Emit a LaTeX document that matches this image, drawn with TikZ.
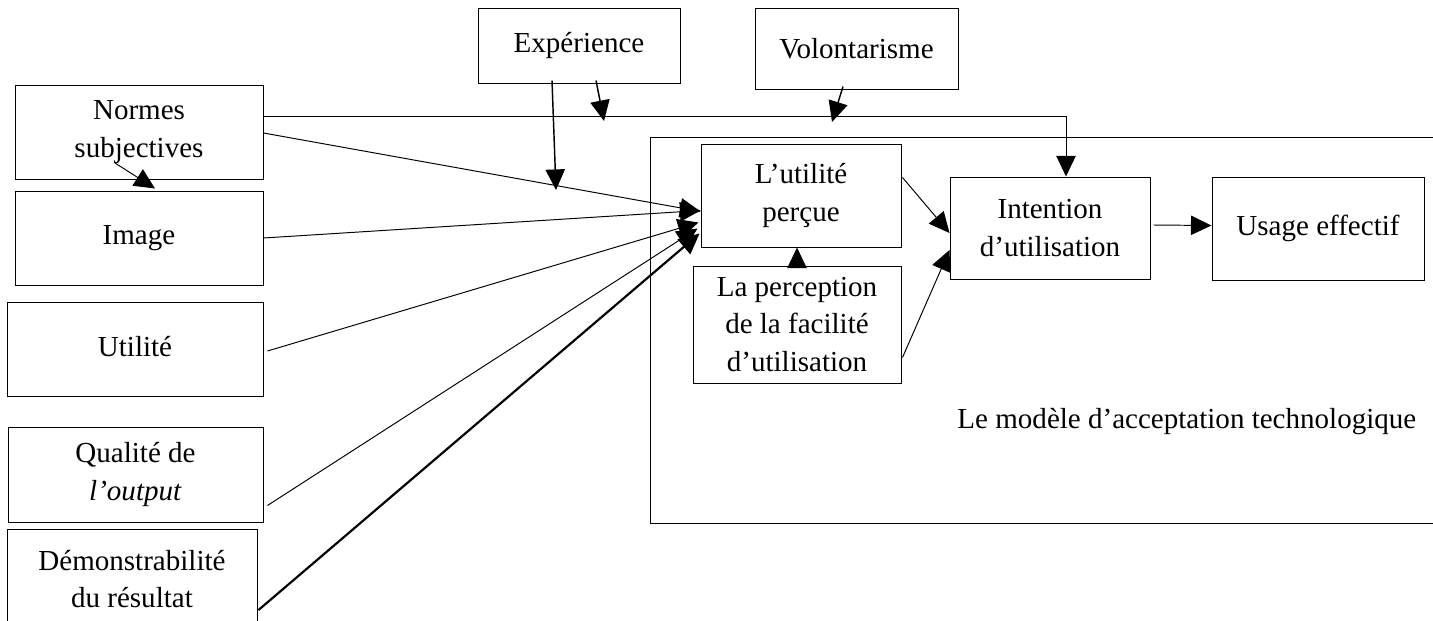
\documentclass[tikz,border=0pt]{standalone}
\usepackage{fontspec}
\setmainfont{Liberation Serif}
\usepackage{tikz}
\usetikzlibrary{calc,arrows.meta}
\tikzset{>={Triangle[length=8.5pt,width=8pt]}}

\begin{document}
\begin{tikzpicture}[x=0.014524cm,y=-0.014524cm,
    boite/.style={draw,align=center,inner sep=0pt,font=\fontsize{12}{15.5}\selectfont},
    taille/.style 2 args={minimum width=#1*0.014524cm,minimum height=#2*0.014524cm}]
  \useasboundingbox (0,0) rectangle (1433,621);

    % les variables externes
    \node[boite,taille={202}{75}] (exp) at (579,45.5) {Expérience};
    \node[boite,taille={203}{81}] (vol) at (856.5,48.5) {Volontarisme};
    \node[boite,taille={248}{94}] (norm) at (139,132) {Normes\\subjectives};
    \node[boite,taille={248}{94}] (img) at (139,238) {Image};
    \node[boite,taille={256}{94}] (util) at (135,349) {\raisebox{2.5pt}{Utilité}};
    \node[boite,taille={255}{95}] (qual) at (135.5,474.5) {Qualité de\\\textit{l’output}};
    \node[boite,taille={250}{100}] (demo) at (132,579) {Démonstrabilité\\du résultat};

    % le modele TAM
    \draw (650,137) rectangle (1500,523);
     \node[boite,taille={200}{103}] (up) at (801,195.5) {L’utilité\\perçue};
     \node[boite,taille={208}{117}] (perc) at (797,324.5) {La perception\\de la facilité\\d’utilisation};
     \node[boite,taille={200}{102}] (inten) at (1050,228) {Intention\\d’utilisation};
     \node[boite,taille={212}{103}] (usage) at (1318,228.5) {\raisebox{3pt}{Usage effectif}};
     \node[font=\fontsize{12}{15.5}\selectfont,inner sep=0pt,anchor=base west] (tam) at (957,428) {Le modèle d’acceptation technologique};

    \coordinate (coin) at (1066,116);
    \coordinate (k1) at (556,190);
    \coordinate (k2) at (604,121);
    \coordinate (k3) at (832,122);

    \draw[->] ($(norm.east)+(0,-16)$)--(coin)--(coin |- inten.north);
    \draw[->] ($(norm.east)+(0,1)$)--($(up.west)+(0,16)$);
    \draw[->] ($(norm.center)+(-24,31)$)--($(img.north)+(16,-2)$);
    \draw[->] (img.east)--($(up.west)+(0,15)$);
    \draw[->] ($(util.east)+(4,2)$)--($(up.west)+(-2,27)$);
    \draw[->] ($(qual.south east)+(4,-17)$)--($(up.west)+(-3,33)$);
    \draw[->,line width=0.9pt] ($(demo.east)+(1,31)$)--($(up.west)+(-1,38)$);

      \draw[->,line width=0.6pt] ($(exp.south)+(-27,-3)$)--(k1);
      \draw[->,line width=0.6pt] ($(exp.south)+(17,-3)$)--(k2);
      \draw[->,line width=0.6pt] ($(vol.south)+(-13.5,-3)$)--(k3);

    \draw[->] (perc.north)--(perc.north |- up.south);
    \draw[->] ($(up.east)+(1,-18)$)--($(inten.west)+(0,5)$);
    \draw[->] ($(perc.east)+(1,33)$)--($(inten.west)+(0,22)$);
    \draw[->] ($(inten.east)+(3,-3)$)--($(usage.west)+(0,-3)$);

\end{tikzpicture}
\end{document}
